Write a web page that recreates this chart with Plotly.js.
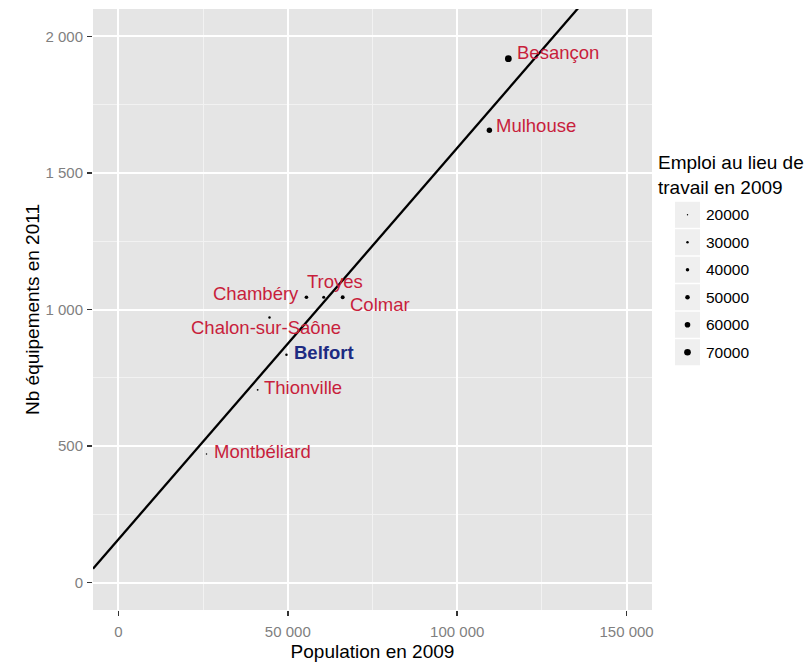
<!DOCTYPE html>
<html>
<head>
<meta charset="utf-8">
<script src="https://cdn.plot.ly/plotly-3.0.1.min.js"></script>
<style>html,body{margin:0;padding:0;background:#fff;}#chart{width:806px;height:662px;}</style>
</head>
<body>
<div id="chart"></div>
<script>
// ---- data ----
var cities = ["Besançon", "Mulhouse", "Chambéry", "Troyes", "Colmar", "Chalon-sur-Saône", "Belfort", "Thionville", "Montbéliard"];
var population2009 = [115100, 109500, 55500, 60600, 66200, 44600, 49600, 41100, 26000];
var equipements2011 = [1918, 1656, 1045, 1045, 1045, 971, 834, 706, 471];
var emploi2009 = [71000, 58000, 41000, 36000, 44000, 30000, 30000, 24000, 21000];
var highlighted = ["Belfort"];

var fitIntercept = 158.5;
var fitSlope = 0.01433;

var xTickVals = [0, 50000, 100000, 150000];
var xTickText = ["0", "50 000", "100 000", "150 000"];
var xMinorVals = [25000, 75000, 125000];
var yTickVals = [0, 500, 1000, 1500, 2000];
var yTickText = ["0", "500", "1 000", "1 500", "2 000"];
var yMinorVals = [250, 750, 1250, 1750];

var legendLevels = [20000, 30000, 40000, 50000, 60000, 70000];
var legendLabels = ["20000", "30000", "40000", "50000", "60000", "70000"];

// ---- styling helpers ----
var FONT = "Liberation Sans, Arial, Helvetica, sans-serif";
var RED = "#c81e3c", BLUE = "#1d2b82";
function dotSize(v) { return 1.4 + (v - 20000) / 9500; }

// label placement (style only): [xanchor, xshift, yshift]
var labelPlacement = {
  "Besançon": ["left", 7, 6],
  "Mulhouse": ["left", 5, 5],
  "Chambéry": ["right", -5, 4],
  "Troyes": ["center", 11, 16],
  "Colmar": ["left", 5, -7],
  "Chalon-sur-Saône": ["center", -4, -10],
  "Belfort": ["left", 6, 2],
  "Thionville": ["left", 4, 2],
  "Montbéliard": ["left", 6, 3]
};

var xRange = [-7500, 157500];
var yRange = [-100, 2100];

var traces = [];
// regression line
var fitX = xRange.slice();
traces.push({
  x: fitX, y: fitX.map(function (v) { return fitIntercept + fitSlope * v; }),
  mode: "lines", type: "scatter", line: { color: "#000", width: 2.3 },
  hoverinfo: "skip", showlegend: false, xaxis: "x", yaxis: "y"
});
// points
traces.push({
  x: population2009, y: equipements2011, text: cities,
  mode: "markers", type: "scatter",
  marker: { color: "#000", opacity: 1, size: emploi2009.map(dotSize), line: { width: 0 } },
  showlegend: false, xaxis: "x", yaxis: "y"
});
// legend keys (second axes)
traces.push({
  x: legendLevels.map(function () { return 0.5; }), y: legendLevels,
  mode: "markers", type: "scatter",
  marker: { symbol: "square", color: "#efefef", opacity: 1, size: 26, line: { width: 0 } },
  showlegend: false, xaxis: "x2", yaxis: "y2", hoverinfo: "skip"
});
traces.push({
  x: legendLevels.map(function () { return 0.5; }), y: legendLevels,
  mode: "markers", type: "scatter",
  marker: { color: "#000", opacity: 1, size: legendLevels.map(dotSize), line: { width: 0 } },
  showlegend: false, xaxis: "x2", yaxis: "y2", hoverinfo: "skip"
});

var annotations = cities.map(function (c, i) {
  var p = labelPlacement[c];
  var hl = highlighted.indexOf(c) >= 0;
  return {
    x: population2009[i], y: equipements2011[i], xref: "x", yref: "y",
    text: hl ? "<b>" + c + "</b>" : c, showarrow: false,
    xanchor: p[0], yanchor: "middle", xshift: p[1], yshift: p[2],
    font: { family: FONT, size: 18.5, color: hl ? BLUE : RED }
  };
});
legendLevels.forEach(function (v, i) {
  annotations.push({
    x: 1, y: v, xref: "x2", yref: "y2", text: legendLabels[i], showarrow: false,
    xanchor: "left", yanchor: "middle", xshift: 4,
    font: { family: FONT, size: 15.5, color: "#000" }
  });
});
annotations.push({
  x: 0.7895, y: 0.765, xref: "paper", yref: "paper", xanchor: "left", yanchor: "top",
  align: "left", showarrow: false, text: "Emploi au lieu de<br>travail en 2009",
  font: { family: FONT, size: 19, color: "#000" }
});

var axisCommon = {
  showline: false, zeroline: false, ticks: "outside", ticklen: 5, tickwidth: 1.5,
  tickcolor: "#333", gridcolor: "#ffffff", gridwidth: 2,
  tickfont: { family: FONT, size: 15, color: "#7f7f7f" }
};

var layout = {
  width: 806, height: 662,
  margin: { l: 93, r: 0, t: 9, b: 52 },
  paper_bgcolor: "#ffffff", plot_bgcolor: "#ffffff",
  font: { family: FONT },
  showlegend: false,
  xaxis: Object.assign({}, axisCommon, {
    domain: [0, 559 / 713], range: xRange, tickmode: "array",
    tickvals: xTickVals, ticktext: xTickText, ticklabelstandoff: 3,
    minor: { tickvals: xMinorVals, showgrid: true, gridcolor: "#f2f2f2", gridwidth: 1, ticks: "" },
    title: { text: "Population en 2009", font: { family: FONT, size: 19, color: "#000" }, standoff: 6 }
  }),
  yaxis: Object.assign({}, axisCommon, {
    domain: [0, 1], range: yRange, tickmode: "array",
    tickvals: yTickVals, ticktext: yTickText, ticklabelstandoff: 1,
    minor: { tickvals: yMinorVals, showgrid: true, gridcolor: "#f2f2f2", gridwidth: 1, ticks: "" },
    title: { text: "Nb équipements en 2011", font: { family: FONT, size: 19, color: "#000" }, standoff: 0 }
  }),
  xaxis2: { domain: [(675 - 93) / 713, (700 - 93) / 713], range: [0, 1], visible: false, anchor: "y2", fixedrange: true },
  yaxis2: { domain: [0.406, 0.6805], range: [75000, 15000], visible: false, anchor: "x2", fixedrange: true },
  shapes: [{
    type: "rect", xref: "x domain", yref: "y domain", x0: 0, x1: 1, y0: 0, y1: 1,
    fillcolor: "#e5e5e5", line: { width: 0 }, layer: "below"
  }],
  annotations: annotations
};

Plotly.newPlot("chart", traces, layout, { displayModeBar: false, staticPlot: true });
</script>
</body>
</html>
